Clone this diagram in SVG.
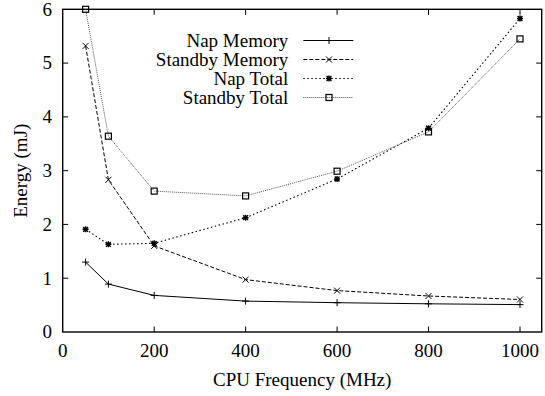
<svg xmlns="http://www.w3.org/2000/svg" xmlns:xlink="http://www.w3.org/1999/xlink" width="545" height="396" viewBox="0 0 545 396">
<style>
text{font-family:'Liberation Serif','Times New Roman',Times,serif;font-size:19px;fill:#000}
.ax{fill:none;stroke:#000;stroke-width:1.4}
.tk{stroke:#000;stroke-width:1}
.s1{fill:none;stroke:#000;stroke-width:1}
.s2{fill:none;stroke:#000;stroke-width:1;stroke-dasharray:4,2}
.s3{fill:none;stroke:#000;stroke-width:1.1;stroke-dasharray:1.5,2.5}
.s4{fill:none;stroke:#555;stroke-width:1;stroke-dasharray:1,1}
.pt{fill:none;stroke:#000;stroke-width:1}
.pt3{fill:none;stroke:#000;stroke-width:1.4}
.pt4{fill:none;stroke:#000;stroke-width:1.2}
</style>
<defs>
<path id="p1" class="pt" d="M-3.5,0H3.5M0,-3.5V3.5"/>
<path id="p2" class="pt" d="M-3,-3L3,3M-3,3L3,-3"/>
<path id="p3" class="pt3" d="M-3,0H3M0,-3V3M-2.4,-2.4L2.4,2.4M-2.4,2.4L2.4,-2.4"/>
<rect id="p4" class="pt4" x="-3" y="-3" width="6" height="6"/>
</defs>
<rect width="545" height="396" fill="#fff"/>
<g id="axes">
<rect class="ax" x="62.7" y="9.3" width="479" height="322.7"/>
<path class="tk" d="M62.7,278.2h5.5M62.7,224.4h5.5M62.7,170.7h5.5M62.7,116.9h5.5M62.7,63.1h5.5M541.7,278.2h-5.5M541.7,224.4h-5.5M541.7,170.7h-5.5M541.7,116.9h-5.5M541.7,63.1h-5.5M154.2,332v-5.5M245.6,332v-5.5M337.1,332v-5.5M428.5,332v-5.5M520,332v-5.5M154.2,9.3v5.5M245.6,9.3v5.5M337.1,9.3v5.5M428.5,9.3v5.5M520,9.3v5.5"/>
<g text-anchor="end">
<text x="52" y="338.3">0</text>
<text x="52" y="284.5">1</text>
<text x="52" y="230.7">2</text>
<text x="52" y="177">3</text>
<text x="52" y="123.2">4</text>
<text x="52" y="69.4">5</text>
<text x="52" y="15.6">6</text>
</g>
<g text-anchor="middle">
<text x="62.7" y="357.3">0</text>
<text x="154.2" y="357.3">200</text>
<text x="245.6" y="357.3">400</text>
<text x="337.1" y="357.3">600</text>
<text x="428.5" y="357.3">800</text>
<text x="520" y="357.3">1000</text>
<text x="302.2" y="386">CPU Frequency (MHz)</text>
<text transform="translate(26.5,170.7) rotate(-90)">Energy (mJ)</text>
</g>
</g>
<g id="series">
<g id="nap-memory">
<polyline class="s1" points="85.6,262.1 108.4,284.1 154.2,295.4 245.6,301.1 337.1,302.7 428.5,303.8 520,304.6"/>
<use xlink:href="#p1" x="85.6" y="262.1"/><use xlink:href="#p1" x="108.4" y="284.1"/><use xlink:href="#p1" x="154.2" y="295.4"/><use xlink:href="#p1" x="245.6" y="301.1"/><use xlink:href="#p1" x="337.1" y="302.7"/><use xlink:href="#p1" x="428.5" y="303.8"/><use xlink:href="#p1" x="520" y="304.6"/>
</g>
<g id="standby-memory">
<polyline class="s2" points="85.6,45.9 108.4,179.8 154.2,245.9 245.6,279.6 337.1,290.6 428.5,296 520,299.5"/>
<use xlink:href="#p2" x="85.6" y="45.9"/><use xlink:href="#p2" x="108.4" y="179.8"/><use xlink:href="#p2" x="154.2" y="245.9"/><use xlink:href="#p2" x="245.6" y="279.6"/><use xlink:href="#p2" x="337.1" y="290.6"/><use xlink:href="#p2" x="428.5" y="296"/><use xlink:href="#p2" x="520" y="299.5"/>
</g>
<g id="nap-total">
<polyline class="s3" points="85.6,229.3 108.4,244.3 154.2,243.3 245.6,217.7 337.1,179 428.5,128.2 520,18.5"/>
<use xlink:href="#p3" x="85.6" y="229.3"/><use xlink:href="#p3" x="108.4" y="244.3"/><use xlink:href="#p3" x="154.2" y="243.3"/><use xlink:href="#p3" x="245.6" y="217.7"/><use xlink:href="#p3" x="337.1" y="179"/><use xlink:href="#p3" x="428.5" y="128.2"/><use xlink:href="#p3" x="520" y="18.5"/>
</g>
<g id="standby-total">
<polyline class="s4" points="85.6,9.3 108.4,136.2 154.2,191.1 245.6,195.9 337.1,171.2 428.5,131.9 520,38.9"/>
<use xlink:href="#p4" x="85.6" y="9.3"/><use xlink:href="#p4" x="108.4" y="136.2"/><use xlink:href="#p4" x="154.2" y="191.1"/><use xlink:href="#p4" x="245.6" y="195.9"/><use xlink:href="#p4" x="337.1" y="171.2"/><use xlink:href="#p4" x="428.5" y="131.9"/><use xlink:href="#p4" x="520" y="38.9"/>
</g>
</g>
<g id="legend">
<g text-anchor="end">
<text x="288.3" y="47">Nap Memory</text>
<text x="288.3" y="66">Standby Memory</text>
<text x="288.3" y="85">Nap Total</text>
<text x="288.3" y="104">Standby Total</text>
</g>
<path class="s1" d="M303.3,40.5H353.3"/><use xlink:href="#p1" x="329" y="40.5"/>
<path class="s2" d="M303.3,59.5H353.3"/><use xlink:href="#p2" x="329" y="59.5"/>
<path class="s3" d="M303.3,78.5H353.3"/><use xlink:href="#p3" x="329" y="78.5"/>
<path class="s4" d="M303.3,97.5H353.3"/><use xlink:href="#p4" x="329" y="97.5"/>
</g>
</svg>
